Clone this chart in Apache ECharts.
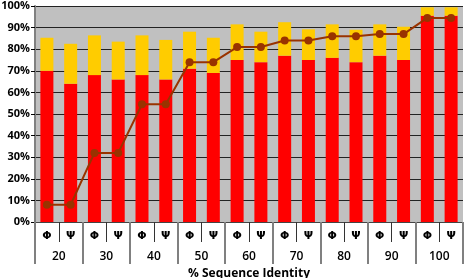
<!DOCTYPE html>
<html><head><meta charset="utf-8">
<script src="https://cdn.jsdelivr.net/npm/echarts@6/dist/echarts.min.js"></script>
<style>html,body{margin:0;padding:0;background:#fff}#c{width:466px;height:278px}</style>
</head><body><div id="c"></div>
<script>
const groups = ['20','30','40','50','60','70','80','90','100'];
const angles = ['Φ','Ψ'];
const lowerValues = [70,64,68,66,68,66,71,69,75,74,77,75,76,74,77,75,95.5,95.5];
const totalValues = [85.3,82.5,86.4,83.5,86.4,84.3,88.1,85.3,91.5,88.1,92.5,89.2,91.5,89,91.5,90.4,99.4,99.4];
const lineValues = [8,8,32,32,54.5,54.5,74,74,81,81,84,84,86,86,87,87,94.5,94.5];
const yTicks = [0,10,20,30,40,50,60,70,80,90,100];

const categories = [];
groups.forEach(g => angles.forEach(a => categories.push(a)));
const upperSegment = totalValues.map((t,i) => +(t - lowerValues[i]).toFixed(2));

const chart = echarts.init(document.getElementById('c'), null, {renderer:'canvas'});
chart.setOption({
  animation:false,
  backgroundColor:'#fff',
  grid:{left:35,right:3,top:6,bottom:56,show:true,backgroundColor:'#c0c0c0',borderWidth:0,outerBoundsMode:'none',containLabel:false},
  xAxis:[{
    type:'category',data:categories,
    axisLine:{show:true,lineStyle:{color:'#444',width:1}},
    axisTick:{show:true,interval:0,length:20,lineStyle:{color:'#333',width:1}},
    axisLabel:{interval:0,margin:9,fontSize:11,fontWeight:'bold',color:'#000',fontFamily:'DejaVu Sans'}
  },{
    type:'category',data:groups,position:'bottom',
    axisLine:{show:false},
    axisTick:{show:true,interval:0,length:42,lineStyle:{color:'#808080',width:2}},
    axisLabel:{interval:0,margin:29,fontSize:12,fontWeight:600,color:'#000',fontFamily:'Open Sans'},
    name:'% Sequence Identity',nameLocation:'middle',nameGap:43,
    nameTextStyle:{fontSize:12,fontWeight:'bold',color:'#000',fontFamily:'Open Sans'}
  }],
  yAxis:{
    type:'value',min:0,max:100,interval:10,
    axisLine:{show:true,lineStyle:{color:'#808080',width:2}},
    axisTick:{show:true,length:4,lineStyle:{color:'#000'}},
    splitLine:{show:true,lineStyle:{color:'#222',width:1}},
    axisLabel:{formatter:v=>yTicks.includes(v)?v+'%':'',fontSize:11,fontWeight:'bold',color:'#000',margin:5,fontFamily:'Open Sans'}
  },
  series:[
    {type:'bar',stack:'s',data:lowerValues,barWidth:13,itemStyle:{color:'#ff0000'}},
    {type:'bar',stack:'s',data:upperSegment,barWidth:13,itemStyle:{color:'#ffcc00'}},
    {type:'line',data:lineValues,symbol:'circle',symbolSize:8,
     lineStyle:{color:'#993300',width:2},itemStyle:{color:'#993300'},z:5}
  ]
});
</script></body></html>
